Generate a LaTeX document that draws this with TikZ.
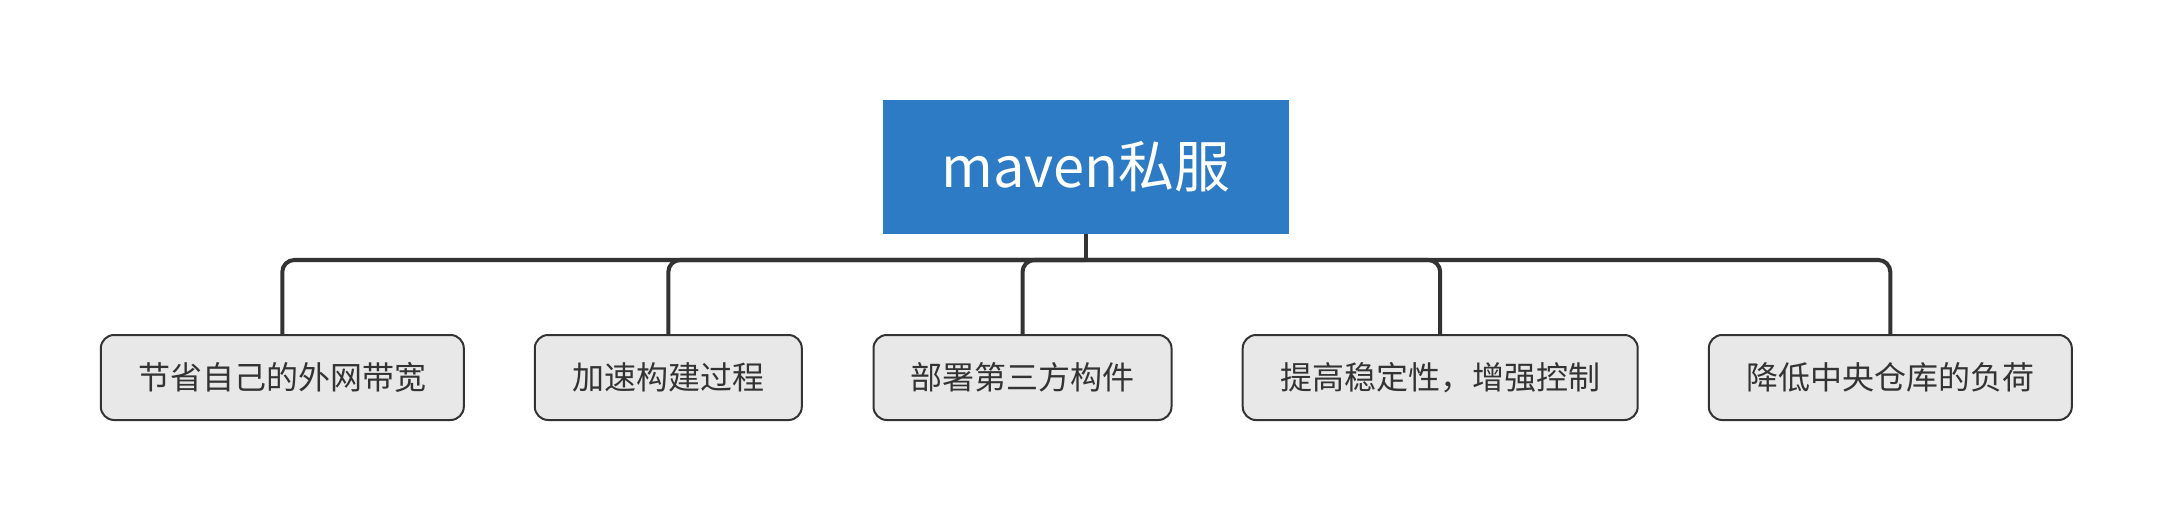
\documentclass[tikz,border=0pt]{standalone}
\usepackage{fontspec}
\setmainfont{Noto Sans CJK SC}
\definecolor{rootblue}{RGB}{44,123,196}
\definecolor{boxfill}{RGB}{232,232,232}
\definecolor{linedark}{RGB}{51,51,51}
\begin{document}
\begin{tikzpicture}[x=0.75pt,y=-0.75pt,
  rootbox/.style={fill=rootblue,draw=none,text=white,minimum width=304.5pt,minimum height=100.5pt,inner sep=0pt,font=\fontsize{42pt}{50pt}\selectfont},
  childbox/.style={fill=boxfill,draw=linedark,line width=1.5pt,rounded corners=10pt,minimum height=63.75pt,inner sep=0pt,text=linedark,font=\fontsize{24pt}{28pt}\selectfont},
  conn/.style={draw=linedark,line width=3pt,rounded corners=9pt}]
\useasboundingbox (0,0) rectangle (2172,520);
\node[rootbox] (root) at (1086,167) {maven私服};
\node[childbox,minimum width=272.25pt] (c1) at (282.3,377.5) {节省自己的外网带宽};
\node[childbox,minimum width=200.25pt] (c2) at (668.3,377.5) {加速构建过程};
\node[childbox,minimum width=223.5pt] (c3) at (1022.5,377.5) {部署第三方构件};
\node[childbox,minimum width=296.25pt] (c4) at (1440.2,377.5) {提高稳定性，增强控制};
\node[childbox,minimum width=272.25pt] (c5) at (1890.3,377.5) {降低中央仓库的负荷};
\coordinate (j) at (1086,260);
\draw[draw=linedark,line width=2.6pt] (root.south) -- (j);
\draw[conn] (j) -| (c1.north);
\draw[conn] (j) -| (c2.north);
\draw[conn] (j) -| (c3.north);
\draw[conn] (j) -| (c4.north);
\draw[conn] (j) -| (c5.north);
\end{tikzpicture}
\end{document}
